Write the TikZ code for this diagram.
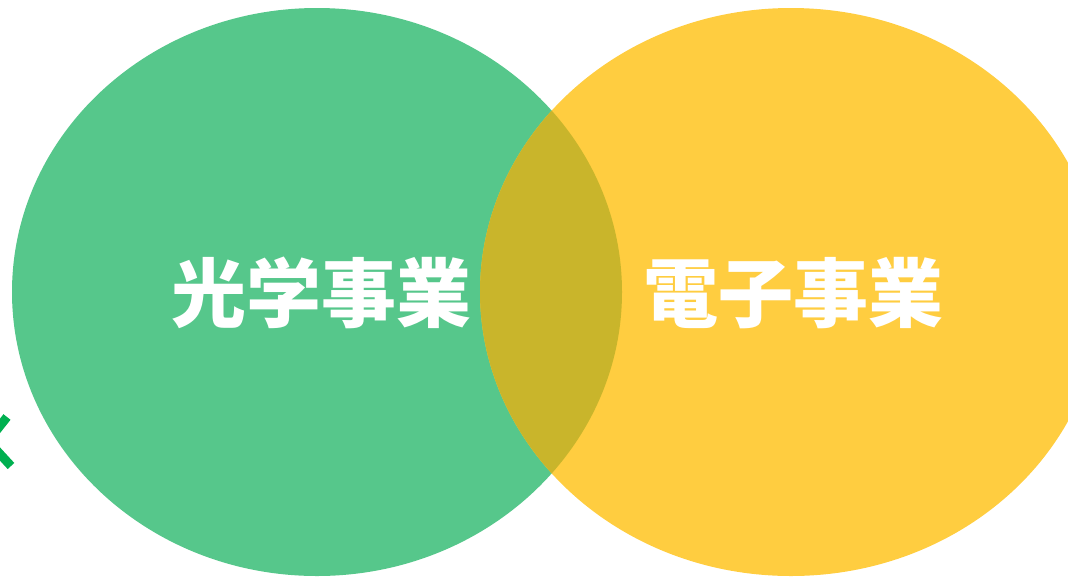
\documentclass[tikz,border=0pt]{standalone}
\usepackage{fontspec}
\newfontfamily\cjk{Noto Sans CJK JP}[BoldFont={Noto Sans CJK JP Black}]
\definecolor{greenfill}{HTML}{56C78B}
\definecolor{yellowfill}{HTML}{FFCD40}
\definecolor{lensfill}{HTML}{C9B52B}
\definecolor{markgreen}{HTML}{00B050}
\begin{document}
\begin{tikzpicture}[x=1pt,y=-1pt,
  labeltext/.style={text=white,font=\cjk\bfseries\fontsize{75}{75}\selectfont,inner sep=0pt,anchor=base}]
\useasboundingbox (0,0) rectangle (1068,579);
\clip (0,0) rectangle (1068,579);
\fill[greenfill] (317,292) ellipse [x radius=305pt, y radius=284pt];
\fill[yellowfill] (791,292) ellipse [x radius=311pt, y radius=284pt];
\begin{scope}
  \clip (317,292) ellipse [x radius=305pt, y radius=284pt];
  \fill[lensfill] (791,292) ellipse [x radius=311pt, y radius=284pt];
\end{scope}
\draw[markgreen,line width=9pt] (7,417) -- (-12,441) -- (11,466);
\node[labeltext] (optical) at (321,321) {光学事業};
\node[labeltext] (electronic) at (793,321) {電子事業};
\end{tikzpicture}
\end{document}
